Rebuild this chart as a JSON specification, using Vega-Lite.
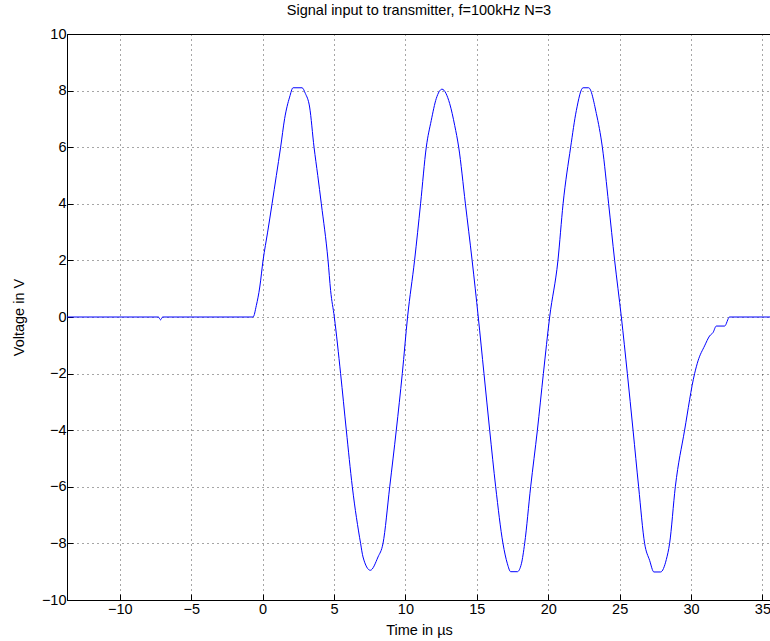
{
  "$schema": "https://vega.github.io/schema/vega-lite/v6.json",
  "autosize": {"type": "none"},
  "padding": {"left": 67, "top": 34, "right": 0, "bottom": 41},
  "width": 704,
  "height": 566,
  "background": "white",
  "title": {"text": "Signal input to transmitter, f=100kHz N=3", "font": "Liberation Sans", "fontSize": 14.5, "fontWeight": "normal", "color": "black", "offset": 8},
  "config": {
    "view": {"stroke": "black", "strokeWidth": 1},
    "axis": {"labelFont": "Liberation Sans", "titleFont": "Liberation Sans", "labelFontSize": 14.5, "titleFontSize": 14.5, "titleFontWeight": "normal", "labelColor": "black", "titleColor": "black", "domainColor": "black", "tickColor": "black", "tickSize": -6, "grid": true, "gridColor": "black", "gridDash": [1, 4], "gridOpacity": 0.7}
  },
  "data": {"values": [
    {"t": -13.7, "v": 0}, {"t": -7.3, "v": 0}, {"t": -7.15, "v": -0.1}, {"t": -7.0, "v": 0},
    {"t": -0.67, "v": 0}, {"t": -0.44, "v": 0.41}, {"t": -0.2, "v": 1.06}, {"t": 0.03, "v": 2},
    {"t": 0.35, "v": 3.0}, {"t": 0.66, "v": 4}, {"t": 0.96, "v": 5}, {"t": 1.26, "v": 6},
    {"t": 1.54, "v": 7.01}, {"t": 1.89, "v": 7.77}, {"t": 2.13, "v": 8.1}, {"t": 2.76, "v": 8.1},
    {"t": 2.99, "v": 7.9}, {"t": 3.29, "v": 7.42}, {"t": 3.6, "v": 6}, {"t": 3.86, "v": 5},
    {"t": 4.11, "v": 4}, {"t": 4.58, "v": 2}, {"t": 4.76, "v": 0.94}, {"t": 5.02, "v": 0},
    {"t": 5.46, "v": -2}, {"t": 5.86, "v": -4}, {"t": 6.28, "v": -6}, {"t": 6.86, "v": -8},
    {"t": 7.03, "v": -8.48}, {"t": 7.54, "v": -8.95}, {"t": 8.08, "v": -8.48}, {"t": 8.43, "v": -8},
    {"t": 8.9, "v": -6}, {"t": 9.36, "v": -4}, {"t": 9.78, "v": -2}, {"t": 10.15, "v": 0},
    {"t": 10.64, "v": 2}, {"t": 11.06, "v": 4}, {"t": 11.46, "v": 6}, {"t": 11.81, "v": 6.95},
    {"t": 12.16, "v": 7.72}, {"t": 12.56, "v": 8.05}, {"t": 13.1, "v": 7.54}, {"t": 13.45, "v": 6.77},
    {"t": 13.73, "v": 6}, {"t": 14.2, "v": 4}, {"t": 14.67, "v": 2}, {"t": 15.1, "v": 0},
    {"t": 15.5, "v": -2}, {"t": 15.9, "v": -4}, {"t": 16.32, "v": -6}, {"t": 16.83, "v": -8},
    {"t": 17.14, "v": -8.72}, {"t": 17.37, "v": -9.0}, {"t": 17.84, "v": -9.0}, {"t": 18.12, "v": -8.72},
    {"t": 18.35, "v": -8}, {"t": 18.77, "v": -6}, {"t": 19.24, "v": -4}, {"t": 19.66, "v": -2},
    {"t": 20.1, "v": 0}, {"t": 20.68, "v": 2}, {"t": 21.04, "v": 4}, {"t": 21.57, "v": 6},
    {"t": 21.97, "v": 7.3}, {"t": 22.44, "v": 8.1}, {"t": 22.83, "v": 8.1}, {"t": 23.37, "v": 7.19},
    {"t": 23.79, "v": 6}, {"t": 24.23, "v": 4}, {"t": 24.65, "v": 2}, {"t": 25.12, "v": 0},
    {"t": 25.54, "v": -2}, {"t": 25.94, "v": -4}, {"t": 26.33, "v": -6}, {"t": 26.75, "v": -8},
    {"t": 27.1, "v": -8.6}, {"t": 27.4, "v": -9.01}, {"t": 27.87, "v": -9.01}, {"t": 28.27, "v": -8.57},
    {"t": 28.5, "v": -8}, {"t": 28.9, "v": -6}, {"t": 29.55, "v": -4}, {"t": 30.25, "v": -2},
    {"t": 30.49, "v": -1.55}, {"t": 30.95, "v": -1.02}, {"t": 31.3, "v": -0.67}, {"t": 31.54, "v": -0.55},
    {"t": 31.77, "v": -0.32}, {"t": 32.35, "v": -0.32}, {"t": 32.7, "v": 0}, {"t": 35.6, "v": 0}
  ]},
  "layer": [
    {
      "mark": {"type": "line", "color": "#0000ff", "strokeWidth": 1, "clip": true, "interpolate": "monotone"},
      "encoding": {
        "x": {"field": "t", "type": "quantitative", "scale": {"domain": [-13.7, 35.6], "nice": false, "zero": false},
          "axis": {"title": "Time in µs", "values": [-10, -5, 0, 5, 10, 15, 20, 25, 30, 35], "labelPadding": 8, "titlePadding": 8}},
        "y": {"field": "v", "type": "quantitative", "scale": {"domain": [-10, 10], "nice": false},
          "axis": {"title": "Voltage in V", "values": [-10, -8, -6, -4, -2, 0, 2, 4, 6, 8, 10], "labelPadding": 7, "titlePadding": 15}}
      }
    }
  ]
}
